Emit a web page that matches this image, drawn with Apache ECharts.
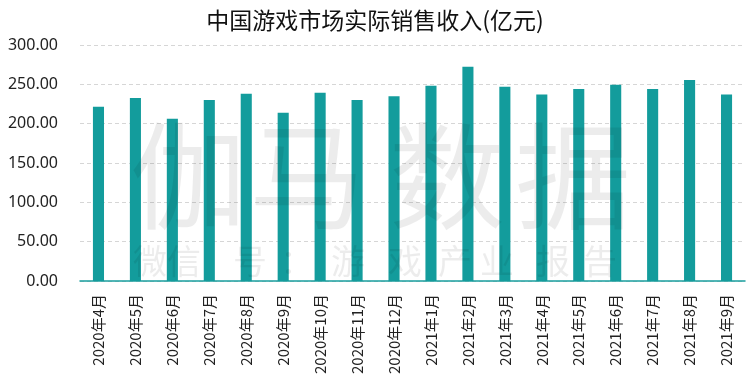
<!DOCTYPE html>
<html>
<head>
<meta charset="utf-8">
<script src="https://cdn.jsdelivr.net/npm/echarts@6/dist/echarts.min.js"></script>
<style>html,body{margin:0;padding:0;background:#fff}#c{width:750px;height:388px}</style>
</head>
<body>
<div id="c"></div>
<script>
const categories = ["2020年4月","2020年5月","2020年6月","2020年7月","2020年8月","2020年9月","2020年10月","2020年11月","2020年12月","2021年1月","2021年2月","2021年3月","2021年4月","2021年5月","2021年6月","2021年7月","2021年8月","2021年9月"];
const revenue = [221.5, 232.5, 206.2, 230.0, 238.0, 213.8, 239.3, 230.0, 235.0, 248.2, 272.4, 247.0, 237.2, 244.0, 249.5, 244.0, 255.4, 237.2];
const titleText = "中国游戏市场实际销售收入(亿元)";
const watermarkBig = ["伽", "马", "数", "据"];
const watermarkSmall = ["微", "信", "号", "：", "游", "戏", "产", "业", "报", "告"];

const bigX = [188, 307, 447, 573];
const smallX = [150, 184, 250, 297, 348, 405, 455, 497, 553, 600];
const graphics = [];
watermarkBig.forEach((ch, i) => graphics.push({
  type: 'text', left: bigX[i] - 58, top: 118, z: 100, silent: true,
  style: { text: ch, font: '116px "Noto Sans CJK SC"', fill: 'rgba(0,0,0,0.075)' }
}));
watermarkSmall.forEach((ch, i) => graphics.push({
  type: 'text', left: smallX[i] - 17, top: 244, z: 100, silent: true,
  style: { text: ch, font: '34px "Noto Sans CJK SC"', fill: 'rgba(0,0,0,0.075)' }
}));

const chart = echarts.init(document.getElementById('c'), null, {renderer: 'canvas'});
chart.setOption({
  animation: false,
  backgroundColor: '#fff',
  title: {
    text: titleText, left: 'center', top: 4,
    textStyle: { fontFamily: '"Noto Sans CJK SC"', fontSize: 23, fontWeight: 'normal', color: '#111' }
  },
  grid: { left: 80, right: 5, top: 45, bottom: 107, containLabel: false },
  xAxis: {
    type: 'category', data: categories,
    axisLine: { lineStyle: { color: '#1a9e9e', width: 1.5 } },
    axisTick: { show: false },
    axisLabel: { rotate: 90, margin: 13, fontSize: 15, color: '#222', fontFamily: '"Noto Sans CJK SC"', interval: 0 }
  },
  yAxis: {
    type: 'value', min: 0, max: 300, interval: 50,
    axisLine: { show: false }, axisTick: { show: false },
    axisLabel: { margin: 22, fontSize: 16, color: '#222', fontFamily: '"Noto Sans", sans-serif', formatter: v => v.toFixed(2) },
    splitLine: { lineStyle: { color: '#d6d6d6', type: [4, 3] } }
  },
  series: [{
    type: 'bar', data: revenue, barCategoryGap: '70%',
    itemStyle: { color: '#139c9c' }
  }],
  graphic: graphics
});
</script>
</body>
</html>
